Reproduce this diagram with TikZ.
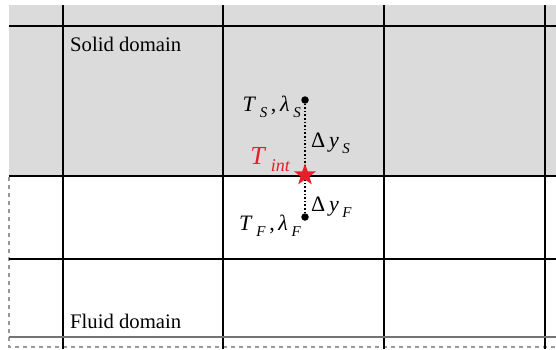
\documentclass[tikz,border=0pt]{standalone}
\usepackage{fontspec}
\setmainfont{Liberation Serif}
\usetikzlibrary{shapes.geometric}

\definecolor{ifacered}{RGB}{232,30,40}

\newcommand{\lowsub}[2][15]{\raisebox{-0.3em}{\fontsize{#1}{#1}\selectfont\itshape #2}}
\newcommand{\qty}[3][15]{\textit{#2}\,\lowsub[#1]{#3}}

\tikzset{
  gridline/.style={black, line width=1.2pt},
  ifaceline/.style={black, line width=2.8pt},
  probe/.style={circle, fill=black, inner sep=0pt, minimum size=7.5pt},
  ifacestar/.style={star, star points=5, star point ratio=2.5, fill=ifacered, draw=none, inner sep=0pt, minimum size=23pt},
  lbl/.style={font=\fontsize{20.7}{24}\selectfont, inner sep=0pt},
  mlbl/.style={font=\fontsize{22}{24}\selectfont, inner sep=0pt},
}

\begin{document}
\begin{tikzpicture}[x=1pt, y=-1pt]
\clip (0,0) rectangle (556,349);
% solid side
\fill[black!14] (9,5) rectangle (570,176);
% fluid side, dashed outline
\draw[black!40, line width=1.6pt, dash pattern=on 4pt off 4pt] (9,177) -- (9,347) -- (570,347);
% grid
\foreach \x in {63, 223, 384, 545} {
  \draw[gridline] (\x,5) -- (\x,349);
}
\draw[gridline] (9,26) -- (570,26);
\draw[gridline] (9,259) -- (570,259);
\draw[black!55, line width=1.6pt] (9,337) -- (570,337);
\draw[ifaceline] (9,176) -- (570,176);
% probes
\node[probe] (ptS) at (305,100) {};
\node[probe] (ptF) at (305,217) {};
\draw[line width=1.1pt, dash pattern=on 1.6pt off 2pt] (ptS.center) -- (ptF.center);
\node[ifacestar] (iface) at (305,175) {};
% labels
\node[lbl, anchor=base west] (solid) at (70,51) {Solid domain};
\node[lbl, anchor=base west] (fluid) at (70,328) {Fluid domain};
\node[mlbl, anchor=base east] (propS) at (301,111) {\qty{T}{S}\,,\,\qty{λ}{S}};
\node[mlbl, anchor=base east] (propF) at (301,230) {\qty{T}{F}\,,\,\qty{λ}{F}};
\node[mlbl, anchor=base west] (dyS) at (311,147) {Δ\,\qty{y}{S}};
\node[mlbl, anchor=base west] (dyF) at (311,211) {Δ\,\qty{y}{F}};
\node[mlbl, anchor=base east, text=ifacered, font=\fontsize{26}{28}\selectfont] (tint) at (290,164) {\qty[18]{T}{int}};
\end{tikzpicture}
\end{document}
